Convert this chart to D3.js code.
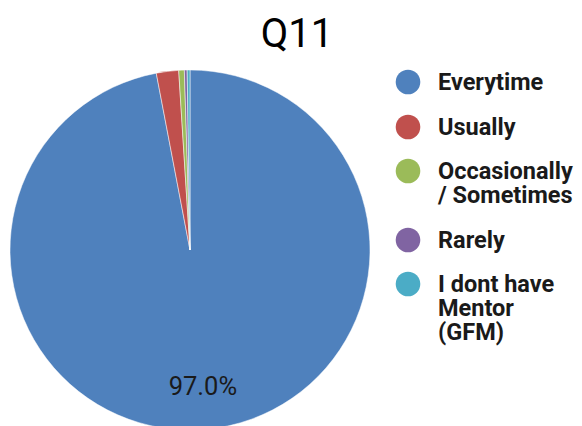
<!DOCTYPE html>
<html>
<head>
<meta charset="utf-8">
<script src="https://cdn.jsdelivr.net/npm/d3@7"></script>
<style>
html,body{margin:0;padding:0;background:#fff;overflow:hidden;}
svg{display:block;font-family:Roboto, "Noto Sans", sans-serif;}
</style>
</head>
<body>
<svg id="chart" width="582" height="426"></svg>
<script>
const title = "Q11";
const categories = ["Everytime", "Usually", "Occasionally / Sometimes", "Rarely", "I dont have Mentor (GFM)"];
const legendLines = [["Everytime"], ["Usually"], ["Occasionally", "/ Sometimes"], ["Rarely"], ["I dont have", "Mentor", "(GFM)"]];
const values = [388, 8, 2, 1, 1];
const colors = ["#4f81bd", "#c0504d", "#9bbb59", "#8064a2", "#4bacc6"];

const svg = d3.select("#chart");
const cx = 190, cy = 250, r = 180;

svg.append("text")
  .attr("x", 297).attr("y", 47)
  .attr("text-anchor", "middle")
  .attr("font-size", 40)
  .attr("fill", "#000")
  .text(title);

const color = d3.scaleOrdinal().domain(categories).range(colors);
const pie = d3.pie().sort(null).value(d => d.v);
const data = categories.map((c, i) => ({c, v: values[i]}));
const arcs = pie(data);
const total = d3.sum(values);

const g = svg.append("g").attr("transform", `translate(${cx},${cy})`);
const arc = d3.arc().innerRadius(0).outerRadius(r);
const labelArc = d3.arc().innerRadius(r * 0.76).outerRadius(r * 0.76);

g.selectAll("path").data(arcs).enter().append("path")
  .attr("d", arc)
  .attr("fill", d => color(d.data.c))
  .attr("stroke", "#fff")
  .attr("stroke-width", 0.5);

g.selectAll("text.lbl").data(arcs.filter(d => d.data.v / total > 0.05)).enter().append("text")
  .attr("class", "lbl")
  .attr("transform", d => `translate(${labelArc.centroid(d)})`)
  .attr("text-anchor", "middle")
  .attr("dy", "0.35em")
  .attr("font-size", 25.5)
  .attr("fill", "#1a1a1a")
  .text(d => (d.data.v / total * 100).toFixed(1) + "%");

const legendY = [82, 127, 171, 240, 284];
const lg = svg.append("g");
categories.forEach((c, i) => {
  const row = lg.append("g").attr("transform", `translate(0,${legendY[i]})`);
  row.append("circle").attr("cx", 408).attr("cy", 0).attr("r", 12.3).attr("fill", color(c));
  const t = row.append("text").attr("x", 438).attr("y", 7.5)
    .attr("font-size", 23.5).attr("font-weight", "bold").attr("fill", "#1a1a1a");
  legendLines[i].forEach((ln, j) => {
    t.append("tspan").attr("x", 438).attr("dy", j === 0 ? 0 : 24).text(ln);
  });
});
</script>
</body>
</html>
